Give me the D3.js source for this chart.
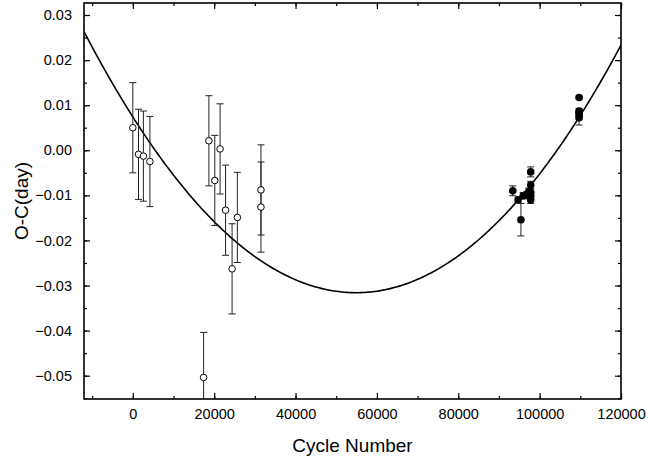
<!DOCTYPE html>
<html>
<head>
<meta charset="utf-8">
<script src="https://cdn.jsdelivr.net/npm/d3@7"></script>
<style>
  body { margin: 0; background: #fff; }
  text { font-family: "Liberation Sans", Arial, sans-serif; fill: #000; }
</style>
</head>
<body>
<div id="chart"></div>
<script>
// open circles: cycle, O-C, error
var openE = [0, 1400, 2600, 4200, 17400, 18700, 20150, 21450, 22800, 24400, 25700, 31500, 31500];
var openOC = [0.0050, -0.0009, -0.0013, -0.0025, -0.0504, 0.0021, -0.0067, 0.0003, -0.0133, -0.0263, -0.0149, -0.0088, -0.0126];
var openErr = [0.010, 0.010, 0.010, 0.010, 0.010, 0.010, 0.010, 0.010, 0.010, 0.010, 0.010, 0.010, 0.010];

// filled circles
var fillE = [93400, 94700, 95400, 95950, 96800, 97300, 97800, 97800, 97800, 97800, 97800, 109700, 109700, 109700, 109700, 109700];
var fillOC = [-0.0090, -0.0110, -0.0154, -0.0101, -0.0099, -0.0092, -0.0048, -0.0077, -0.0093, -0.0101, -0.0110, 0.0117, 0.0087, 0.0083, 0.0078, 0.0072];
var fillErr = [0.0011, 0.0006, 0.0036, 0.0007, 0.0007, 0.0008, 0.0011, 0.0008, 0.0008, 0.0008, 0.0008, 0.0003, 0.0006, 0.0006, 0.0006, 0.0016];

// quadratic fit: O-C = c0 + c1*E + c2*E^2
var fitC0 = 0.0074, fitC1 = -1.421e-6, fitC2 = 1.2946e-11;

var xTicks = [0, 20000, 40000, 60000, 80000, 100000, 120000];
var yTicks = [0.03, 0.02, 0.01, 0.00, -0.01, -0.02, -0.03, -0.04, -0.05];

var W = 648, H = 461;
var margin = {left: 84, right: 27, top: 3, bottom: 62};

var svg = d3.select("#chart").append("svg").attr("width", W).attr("height", H);

var x = d3.scaleLinear().domain([-12000, 120000]).range([margin.left, W - margin.right]);
var y = d3.scaleLinear().domain([-0.05517, 0.03266]).range([H - margin.bottom, margin.top]);

svg.append("clipPath").attr("id", "clip").append("rect")
  .attr("x", margin.left).attr("y", margin.top)
  .attr("width", W - margin.left - margin.right)
  .attr("height", H - margin.top - margin.bottom);

var plot = svg.append("g").attr("clip-path", "url(#clip)");

// fit curve
var fitLine = d3.line()
  .x(function(e){ return x(e); })
  .y(function(e){ return y(fitC0 + fitC1 * e + fitC2 * e * e); });
plot.append("path")
  .datum(d3.range(-12000, 120001, 500))
  .attr("fill", "none").attr("stroke", "#000").attr("stroke-width", 1.6)
  .attr("d", fitLine);

var drawErr = function(E, OC, Er, color){
  var g = plot.append("g").attr("stroke", color).attr("stroke-width", 1);
  E.forEach(function(e, i){
    var px = x(e);
    g.append("line").attr("x1", px).attr("x2", px)
      .attr("y1", y(OC[i] + Er[i])).attr("y2", y(OC[i] - Er[i]));
    [OC[i] + Er[i], OC[i] - Er[i]].forEach(function(v){
      g.append("line").attr("x1", px - 3.5).attr("x2", px + 3.5)
        .attr("y1", y(v)).attr("y2", y(v));
    });
  });
};
drawErr(openE, openOC, openErr, "#222");
drawErr(fillE, fillOC, fillErr, "#222");

plot.append("g").selectAll("circle")
  .data(openE).enter().append("circle")
  .attr("cx", function(e){ return x(e); })
  .attr("cy", function(e, i){ return y(openOC[i]); })
  .attr("r", 3.3)
  .attr("fill", "#fff").attr("stroke", "#000").attr("stroke-width", 1);

plot.append("g").selectAll("circle")
  .data(fillE).enter().append("circle")
  .attr("cx", function(e){ return x(e); })
  .attr("cy", function(e, i){ return y(fillOC[i]); })
  .attr("r", 3.8)
  .attr("fill", "#000");

// axes with inward ticks on all sides
var xb = H - margin.bottom, yl = margin.left, xt = margin.top, yr = W - margin.right;
var xMinor = d3.range(-10000, 120001, 10000);
var yMinor = d3.range(-0.055, 0.0326, 0.005);

var axB = svg.append("g").attr("transform", "translate(0," + xb + ")")
  .call(d3.axisBottom(x).tickValues(xTicks).tickSize(-6).tickPadding(10).tickFormat(d3.format("d")));
var axT = svg.append("g").attr("transform", "translate(0," + xt + ")")
  .call(d3.axisTop(x).tickValues(xTicks).tickSize(-6).tickFormat(""));
var axL = svg.append("g").attr("transform", "translate(" + yl + ",0)")
  .call(d3.axisLeft(y).tickValues(yTicks).tickSize(-6).tickPadding(12).tickFormat(d3.format(".2f")));
var axR = svg.append("g").attr("transform", "translate(" + yr + ",0)")
  .call(d3.axisRight(y).tickValues(yTicks).tickSize(-6).tickFormat(""));

svg.append("g").attr("transform", "translate(0," + xb + ")")
  .call(d3.axisBottom(x).tickValues(xMinor).tickSize(-3).tickFormat(""));
svg.append("g").attr("transform", "translate(0," + xt + ")")
  .call(d3.axisTop(x).tickValues(xMinor).tickSize(-3).tickFormat(""));
svg.append("g").attr("transform", "translate(" + yl + ",0)")
  .call(d3.axisLeft(y).tickValues(yMinor).tickSize(-3).tickFormat(""));
svg.append("g").attr("transform", "translate(" + yr + ",0)")
  .call(d3.axisRight(y).tickValues(yMinor).tickSize(-3).tickFormat(""));

svg.selectAll(".domain").remove();
svg.selectAll(".tick line").attr("stroke", "#000").attr("stroke-width", 1.2);
svg.selectAll(".tick text").style("font-size", "14.5px").style("font-family", "Liberation Sans, Arial, sans-serif");

svg.append("rect")
  .attr("x", yl).attr("y", xt).attr("width", yr - yl).attr("height", xb - xt)
  .attr("fill", "none").attr("stroke", "#000").attr("stroke-width", 1.6);

svg.append("text").attr("x", (yl + yr) / 2).attr("y", 452)
  .attr("text-anchor", "middle").style("font-size", "19px").text("Cycle Number");
svg.append("text").attr("transform", "translate(28," + ((xt + xb) / 2) + ") rotate(-90)")
  .attr("text-anchor", "middle").style("font-size", "19px").text("O-C(day)");
</script>
</body>
</html>
